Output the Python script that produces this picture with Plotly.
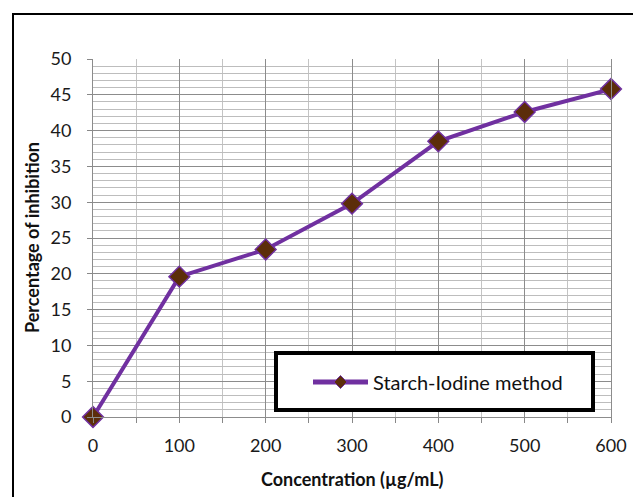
import plotly.graph_objects as go

concentration = [0, 100, 200, 300, 400, 500, 600]
inhibition = [0.0, 19.6, 23.4, 29.8, 38.5, 42.6, 45.8]
series_name = "Starch-Iodine method"
x_title = "Concentration (µg/mL)"
y_title = "Percentage of inhibition"

W, H = 633, 497
L, R, T, B = 93, 22, 59, 80
pw, ph = W - L - R, H - T - B

def px_x(p):
    return (p - L) / pw

def px_y(p):
    return (H - B - p) / ph

font_fam = "Lato, Open Sans, sans-serif"
purple = "#7030A0"
brown = "#5C2D0A"

fig = go.Figure()
fig.add_trace(go.Scatter(
    x=concentration, y=inhibition, mode="lines+markers", name=series_name,
    line=dict(color=purple, width=4),
    marker=dict(symbol="diamond", size=16, color=brown,
                line=dict(color=purple, width=1.5)),
    cliponaxis=False, showlegend=False,
))
# legend entry with a smaller marker, as in the reference
fig.add_trace(go.Scatter(
    x=[None], y=[None], mode="lines+markers", name=series_name,
    line=dict(color=purple, width=5),
    marker=dict(symbol="diamond", size=10, color=brown,
                line=dict(color=purple, width=1)),
    showlegend=True,
))

fig.update_layout(
    width=W, height=H,
    margin=dict(l=L, r=R, t=T, b=B, autoexpand=False),
    paper_bgcolor="white", plot_bgcolor="white",
    font=dict(family=font_fam, size=18, color="#1a1a1a"),
    showlegend=True,
    legend=dict(x=px_x(308), y=px_y(382), xanchor="left", yanchor="middle",
                bgcolor="rgba(0,0,0,0)", borderwidth=0, itemwidth=55,
                font=dict(family=font_fam, size=20, color="#111")),
    xaxis=dict(range=[0, 600], tickvals=concentration, ticks="outside", ticklen=5,
               tickcolor="#888", showgrid=True, gridcolor="#8c8c8c", gridwidth=1,
               ticklabelstandoff=7, automargin=False,
               minor=dict(dtick=50, showgrid=True, gridcolor="#c4c4c4", ticks="outside",
                          ticklen=5, tickcolor="#888"),
               showline=True, linecolor="#8c8c8c", linewidth=1, zeroline=False,
               fixedrange=True),
    yaxis=dict(range=[0, 50], dtick=5, ticks="outside", ticklen=5, tickcolor="#888",
               ticklabelstandoff=12, automargin=False,
               showgrid=True, gridcolor="#8c8c8c", gridwidth=1,
               minor=dict(dtick=1, showgrid=True, gridcolor="#bdbdbd"),
               showline=True, linecolor="#8c8c8c", linewidth=1, zeroline=False,
               mirror=True, fixedrange=True),
    annotations=[
        dict(text="<b>" + x_title + "</b>", xref="paper", yref="paper",
             x=px_x(352), y=px_y(479), xanchor="center", yanchor="middle",
             showarrow=False, font=dict(size=18, color="#111")),
        dict(text="<b>" + y_title + "</b>", xref="paper", yref="paper",
             x=px_x(32), y=px_y(238), xanchor="center", yanchor="middle",
             textangle=-90, showarrow=False, font=dict(size=18, color="#111")),
    ],
    shapes=[
        dict(type="rect", xref="paper", yref="paper",
             x0=px_x(276), x1=px_x(593), y0=px_y(410), y1=px_y(353),
             line=dict(color="black", width=4), fillcolor="white", layer="above"),
        dict(type="rect", xref="paper", yref="paper",
             x0=px_x(13), x1=px_x(700), y0=px_y(560), y1=px_y(14),
             line=dict(color="black", width=2), fillcolor="rgba(0,0,0,0)", layer="below"),
    ],
)
fig.write_html("out.html")
